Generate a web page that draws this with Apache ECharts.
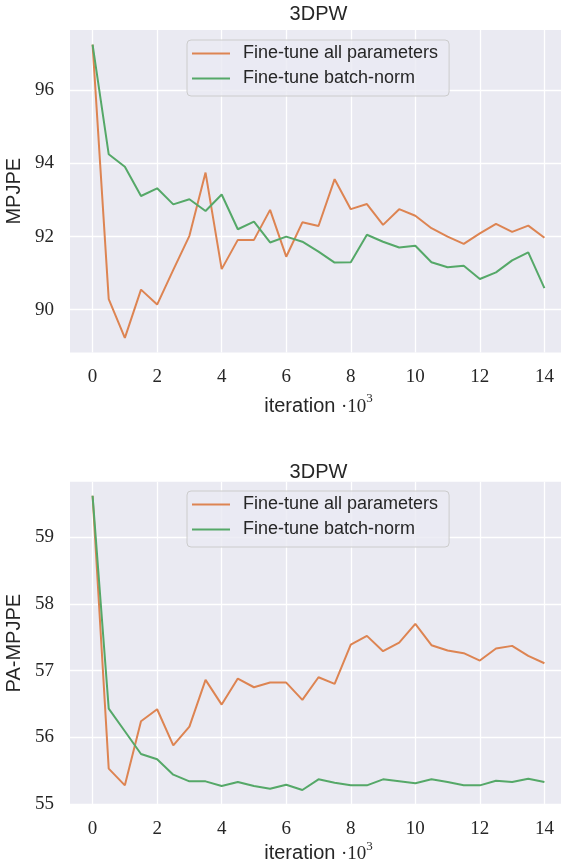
<!DOCTYPE html>
<html><head><meta charset="utf-8">
<script src="https://cdn.jsdelivr.net/npm/echarts@6/dist/echarts.min.js"></script>
<style>html,body{margin:0;padding:0;background:#fff}#c{width:561px;height:863px}</style>
</head><body><div id="c"></div>
<script>
const iterations = [0,0.5,1,1.5,2,2.5,3,3.5,4,4.5,5,5.5,6,6.5,7,7.5,8,8.5,9,9.5,10,10.5,11,11.5,12,12.5,13,13.5,14];
const mpjpeAll = [97.25,90.29,89.23,90.55,90.14,91.09,92.02,93.75,91.11,91.91,91.91,92.73,91.45,92.39,92.29,93.57,92.75,92.89,92.32,92.75,92.57,92.23,92.0,91.80,92.09,92.35,92.13,92.30,91.97];
const mpjpeBN = [97.25,94.25,93.91,93.11,93.32,92.88,93.02,92.70,93.15,92.20,92.41,91.84,92.0,91.86,91.59,91.29,91.30,92.05,91.86,91.70,91.75,91.30,91.16,91.20,90.84,91.02,91.35,91.57,90.59];
const paAll = [59.62,55.53,55.28,56.24,56.42,55.88,56.16,56.86,56.49,56.88,56.75,56.82,56.82,56.56,56.90,56.80,57.39,57.52,57.29,57.42,57.70,57.38,57.30,57.26,57.15,57.33,57.37,57.22,57.11];
const paBN = [59.62,56.43,56.09,55.75,55.67,55.44,55.34,55.34,55.27,55.33,55.27,55.23,55.29,55.21,55.37,55.32,55.28,55.28,55.37,55.34,55.31,55.37,55.33,55.28,55.28,55.35,55.33,55.38,55.33];
const xTicks = [0,2,4,6,8,10,12,14];
const topYTicks = [90,92,94,96];
const bottomYTicks = [55,56,57,58,59];
const chartTitles = ['3DPW','3DPW'];
const yNames = ['MPJPE','PA-MPJPE'];
const seriesNames = ['Fine-tune all parameters','Fine-tune batch-norm'];

const ORANGE = '#dd8452', GREEN = '#55a868', TXT = '#262626';
const SANS = 'Liberation Sans', SERIF = 'Liberation Serif';
const pairs = (xs, ys) => xs.map((x, i) => [x, ys[i]]);

const grids = [
  {left: 70, right: -6, top: 30, height: 322.5},
  {left: 70, right: -6, top: 481.7, height: 323}
];
const yRanges = [[88.83, 97.65], [54.99, 59.83]];
const yTickSets = [topYTicks, bottomYTicks];
const xNameGaps = [40, 35];

function xAxis(i) {
  return {
    type: 'value', gridIndex: i, min: -0.7, max: 14.7,
    axisLine: {show: false},
    axisTick: {show: false, customValues: xTicks},
    axisLabel: {customValues: xTicks, margin: 15, fontFamily: SERIF, fontSize: 19, color: TXT},
    splitLine: {show: true, lineStyle: {color: '#ffffff', width: 1.3}},
    name: '{s|iteration }{m|·10}{p|3}',
    nameLocation: 'middle', nameGap: xNameGaps[i],
    nameTextStyle: {
      rich: {
        s: {fontFamily: SANS, fontSize: 20, color: TXT, lineHeight: 24, verticalAlign: 'bottom'},
        m: {fontFamily: SERIF, fontSize: 19, color: TXT, lineHeight: 24, verticalAlign: 'bottom'},
        p: {fontFamily: SERIF, fontSize: 13, color: TXT, lineHeight: 24, verticalAlign: 'top'}
      }
    }
  };
}
function yAxis(i) {
  return {
    type: 'value', gridIndex: i, min: yRanges[i][0], max: yRanges[i][1],
    axisLine: {show: false},
    axisTick: {show: false, customValues: yTickSets[i]},
    axisLabel: {customValues: yTickSets[i], margin: 16, fontFamily: SERIF, fontSize: 19, color: TXT},
    splitLine: {show: true, lineStyle: {color: '#ffffff', width: 1.3}},
    name: yNames[i], nameLocation: 'middle', nameGap: 37, nameRotate: 90,
    nameTextStyle: {fontFamily: SANS, fontSize: 20, color: TXT}
  };
}
function legend(i, top) {
  return {
    left: 187, top: top, orient: 'vertical', data: seriesNames, icon: 'rect',
    itemWidth: 38, itemHeight: 2, itemGap: 0, padding: [1, 11, 5, 5],
    backgroundColor: 'rgba(234,234,242,0.8)', borderColor: '#cccccc', borderWidth: 1, borderRadius: 4,
    textStyle: {fontFamily: SANS, fontSize: 18, color: TXT, lineHeight: 25, padding: [0, 0, 0, 8]},
    selectedMode: false
  };
}
function line(name, color, i, xs, ys) {
  return {
    type: 'line', name: name, xAxisIndex: i, yAxisIndex: i, data: pairs(xs, ys),
    showSymbol: false, symbol: 'none', color: color,
    lineStyle: {color: color, width: 2}, emphasis: {disabled: true}
  };
}

const chart = echarts.init(document.getElementById('c'), null, {renderer: 'canvas'});
chart.setOption({
  animation: false,
  title: [
    {text: chartTitles[0], left: 318.5, top: 4, textAlign: 'center', padding: 0,
     textStyle: {fontFamily: SANS, fontSize: 20, fontWeight: 'normal', color: TXT}},
    {text: chartTitles[1], left: 318.5, top: 462, textAlign: 'center', padding: 0,
     textStyle: {fontFamily: SANS, fontSize: 20, fontWeight: 'normal', color: TXT}}
  ],
  grid: grids.map(g => Object.assign({show: true, backgroundColor: '#eaeaf2', borderWidth: 0,
    containLabel: false, outerBoundsMode: 'none'}, g)),
  xAxis: [xAxis(0), xAxis(1)],
  yAxis: [yAxis(0), yAxis(1)],
  legend: [legend(0, 40), legend(1, 491)],
  series: [
    line(seriesNames[0], ORANGE, 0, iterations, mpjpeAll),
    line(seriesNames[1], GREEN, 0, iterations, mpjpeBN),
    line(seriesNames[0], ORANGE, 1, iterations, paAll),
    line(seriesNames[1], GREEN, 1, iterations, paBN)
  ]
});
</script></body></html>
